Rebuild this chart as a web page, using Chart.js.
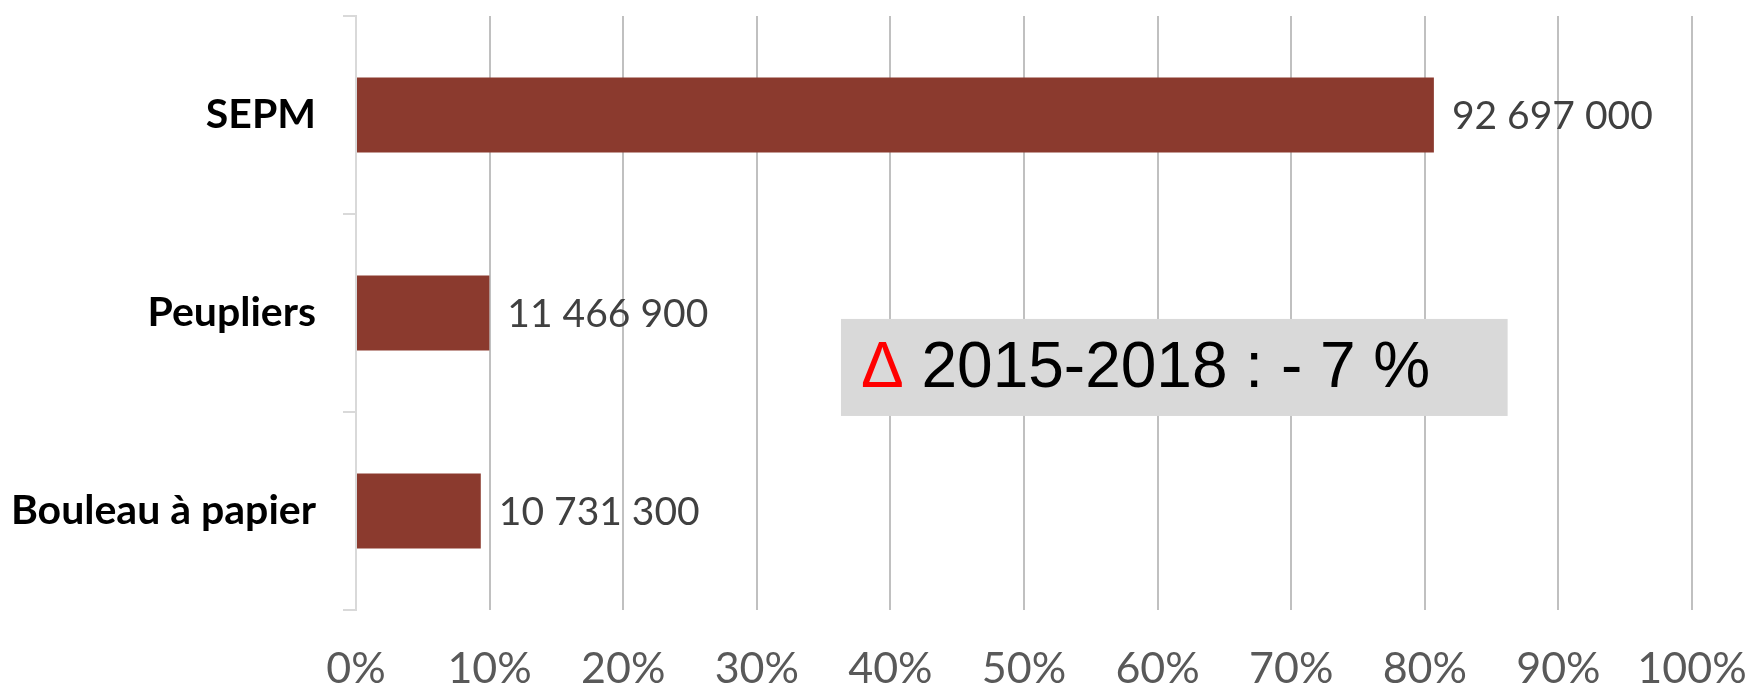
<!DOCTYPE html>
<html>
<head>
<meta charset="utf-8">
<script src="https://cdn.jsdelivr.net/npm/chart.js@4"></script>
<style>
  html, body { margin: 0; padding: 0; background: #fff; }
  #wrap { width: 1745px; height: 684px; }
</style>
</head>
<body>
<div id="wrap"><canvas id="c" width="1745" height="684"></canvas></div>
<script>
const categories = ['SEPM', 'Peupliers', 'Bouleau à papier'];
const volumes = [92697000, 11466900, 10731300];
const xTicks = [0, 10, 20, 30, 40, 50, 60, 70, 80, 90, 100];
const noteDelta = 'Δ';
const noteText = ' 2015-2018 : - 7 %';

// part de chaque essence dans le total
const total = volumes.reduce((a, b) => a + b, 0);
const shares = volumes.map(v => (v / total) * 100);

function fmt(n) {
  return String(n).replace(/\B(?=(\d{3})+(?!\d))/g, ' ');
}

const labelsPlugin = {
  id: 'valueLabels',
  afterDatasetsDraw(chart) {
    const { ctx } = chart;
    const meta = chart.getDatasetMeta(0);
    ctx.save();
    ctx.font = '39px Lato';
    ctx.fillStyle = '#404040';
    ctx.textAlign = 'left';
    ctx.textBaseline = 'middle';
    meta.data.forEach((bar, i) => {
      ctx.fillText(fmt(volumes[i]), bar.x + 18, bar.y + 1);
    });
    ctx.restore();
  },
};

const notePlugin = {
  id: 'noteBox',
  afterDraw(chart) {
    const { ctx } = chart;
    const xs = chart.scales.x;
    const ys = chart.scales.y;
    const left = xs.getPixelForValue(36.3);
    const right = xs.getPixelForValue(86.2);
    const top = ys.getPixelForValue(1.03);
    const bottom = ys.getPixelForValue(1.52);
    ctx.save();
    ctx.fillStyle = '#d9d9d9';
    ctx.fillRect(left, top, right - left, bottom - top);
    ctx.font = '64px "Liberation Sans"';
    ctx.textBaseline = 'middle';
    ctx.textAlign = 'left';
    const ty = (top + bottom) / 2 + 2;
    const tx = left + 20;
    ctx.fillStyle = '#ff0000';
    ctx.fillText(noteDelta, tx, ty);
    const w = ctx.measureText(noteDelta).width;
    ctx.fillStyle = '#000000';
    ctx.fillText(noteText, tx + w, ty);
    ctx.restore();
  },
};

new Chart(document.getElementById('c'), {
  type: 'bar',
  data: {
    labels: categories,
    datasets: [{
      data: shares,
      backgroundColor: '#8b3a2e',
      borderWidth: 0,
      barPercentage: 0.38,
      categoryPercentage: 1,
    }],
  },
  options: {
    indexAxis: 'y',
    responsive: false,
    animation: false,
    layout: { padding: { top: 16, right: 53, left: 0, bottom: 0 } },
    plugins: {
      legend: { display: false },
      tooltip: { enabled: false },
    },
    scales: {
      x: {
        min: 0,
        max: 100,
        afterBuildTicks(scale) {
          scale.ticks = xTicks.map(v => ({ value: v }));
        },
        afterFit(scale) {
          scale.height = 74;
          scale.paddingLeft = 0;
          scale.paddingRight = 0;
        },
        grid: {
          color: ctx => (ctx.tick && ctx.tick.value === 0 ? 'rgba(0,0,0,0)' : '#c0c0c0'),
          lineWidth: 2,
          drawTicks: false,
        },
        border: { display: false },
        ticks: {
          padding: 33,
          color: '#595959',
          font: { family: 'Lato', size: 43 },
          callback: v => v + '%',
        },
      },
      y: {
        afterFit(scale) {
          scale.width = 356;
          scale.paddingTop = 0;
          scale.paddingBottom = 0;
        },
        grid: {
          drawOnChartArea: false,
          drawTicks: true,
          tickLength: 13,
          color: '#d9d9d9',
          lineWidth: 2,
          offset: true,
        },
        border: { display: true, color: '#d9d9d9', width: 2 },
        ticks: {
          padding: 27,
          color: '#000000',
          font: { family: 'Lato', size: 41, weight: 'bold' },
        },
      },
    },
  },
  plugins: [labelsPlugin, notePlugin],
});
</script>
</body>
</html>
